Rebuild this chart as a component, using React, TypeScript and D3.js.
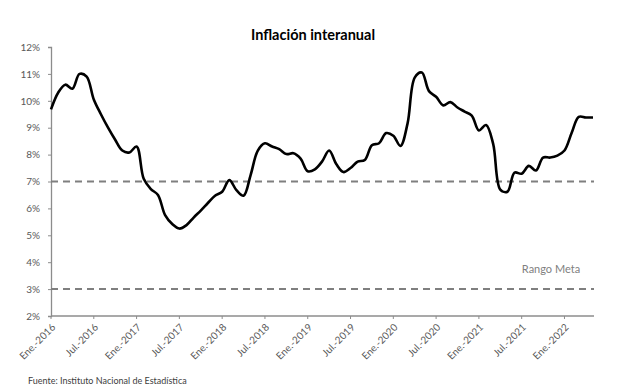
import React, { useEffect, useRef } from "react";
import * as d3 from "d3";

// inflación interanual mensual, Ene-2016 .. May-2022
const inflacion = [
  9.68, 10.3, 10.6, 10.45, 11.0, 10.9, 10.05, 9.5, 9.0, 8.55, 8.15, 8.08,
  8.3, 7.1, 6.72, 6.5, 5.75, 5.42, 5.25, 5.38, 5.66, 5.92, 6.2, 6.47,
  6.62, 7.05, 6.68, 6.47, 7.25, 8.15, 8.42, 8.3, 8.2, 8.02, 8.05, 7.85,
  7.38, 7.45, 7.74, 8.15, 7.65, 7.35, 7.5, 7.74, 7.8, 8.35, 8.42, 8.8,
  8.7, 8.32, 9.16, 10.86, 11.05, 10.36, 10.15, 9.83, 9.95, 9.75, 9.6, 9.45,
  8.9, 9.1, 8.4, 6.7, 6.62, 7.33, 7.29, 7.58, 7.41, 7.89, 7.89, 7.96,
  8.15, 8.8, 9.4, 9.38, 9.38,
];
const tickLabels = [
  "Ene.-2016", "Jul.-2016", "Ene.-2017", "Jul.-2017", "Ene.-2018", "Jul.-2018",
  "Ene.-2019", "Jul.-2019", "Ene.-2020", "Jul.-2020", "Ene.-2021", "Jul.-2021",
  "Ene.-2022",
];
const yTicks = [2, 3, 4, 5, 6, 7, 8, 9, 10, 11, 12];
const rangoMeta = [7, 3];

const W = 617;
const H = 391;
const font = "Lato, 'Open Sans', sans-serif";

export default function App() {
  const ref = useRef<SVGSVGElement>(null);

  useEffect(() => {
    const svg = d3.select(ref.current);
    svg.selectAll("*").remove();

    const left = 51, right = 594, top = 47, bottom = 316;
    const x = d3.scaleLinear().domain([0, 76]).range([left, 593]);
    const y = d3.scaleLinear().domain([2, 12]).range([bottom, top]);

    // titulo
    svg.append("text")
      .attr("x", 313).attr("y", 40)
      .attr("text-anchor", "middle")
      .style("font", `bold 14.5px ${font}`)
      .attr("fill", "#000")
      .text("Inflación interanual");

    // eje y
    const gy = svg.append("g").attr("transform", `translate(${left},0)`)
      .call(d3.axisLeft(y).tickValues(yTicks).tickSize(3).tickFormat(d => `${d}%`));
    gy.select(".domain").attr("stroke", "#8c8c8c").attr("stroke-width", 1.3);
    gy.selectAll(".tick line").attr("stroke", "#8c8c8c");
    gy.selectAll(".tick text")
      .attr("x", -11)
      .attr("fill", "#595959")
      .style("font", `10px ${font}`);

    // eje x
    const tickIdx = tickLabels.map((_, i) => i * 6);
    const gx = svg.append("g").attr("transform", `translate(0,${bottom})`);
    gx.append("line")
      .attr("x1", left).attr("x2", right)
      .attr("stroke", "#8c8c8c").attr("stroke-width", 1.3);
    gx.selectAll("line.tk").data(tickIdx).enter().append("line")
      .attr("class", "tk")
      .attr("x1", d => x(d)).attr("x2", d => x(d))
      .attr("y1", 0).attr("y2", 3)
      .attr("stroke", "#8c8c8c");
    gx.selectAll("text").data(tickLabels).enter().append("text")
      .attr("transform", (_, i) => `translate(${x(tickIdx[i]) + 5},${12}) rotate(-45)`)
      .attr("text-anchor", "end")
      .attr("fill", "#595959")
      .style("font", `10px ${font}`)
      .text(d => d);

    // rango meta
    svg.selectAll("line.meta").data(rangoMeta).enter().append("line")
      .attr("class", "meta")
      .attr("x1", left).attr("x2", right)
      .attr("y1", d => y(d)).attr("y2", d => y(d))
      .attr("stroke", "#7f7f7f")
      .attr("stroke-width", 2)
      .attr("stroke-dasharray", "7,5");

    svg.append("text")
      .attr("x", 551).attr("y", 273)
      .attr("text-anchor", "middle")
      .attr("fill", "#7f7f7f")
      .style("font", `11px ${font}`)
      .text("Rango Meta");

    // serie
    const line = d3.line<number>()
      .x((_, i) => x(i))
      .y(d => y(d))
      .curve(d3.curveCatmullRom.alpha(0.5));
    svg.append("path")
      .datum(inflacion)
      .attr("d", line)
      .attr("fill", "none")
      .attr("stroke", "#000")
      .attr("stroke-width", 2.6)
      .attr("stroke-linejoin", "round");

    // fuente
    svg.append("text")
      .attr("x", 28).attr("y", 384)
      .attr("fill", "#404040")
      .style("font", `9px ${font}`)
      .text("Fuente: Instituto Nacional de Estadística");
  }, []);

  return (
    <svg
      ref={ref}
      width={W}
      height={H}
      style={{ position: "absolute", left: 0, top: 0, background: "#fff" }}
    />
  );
}
